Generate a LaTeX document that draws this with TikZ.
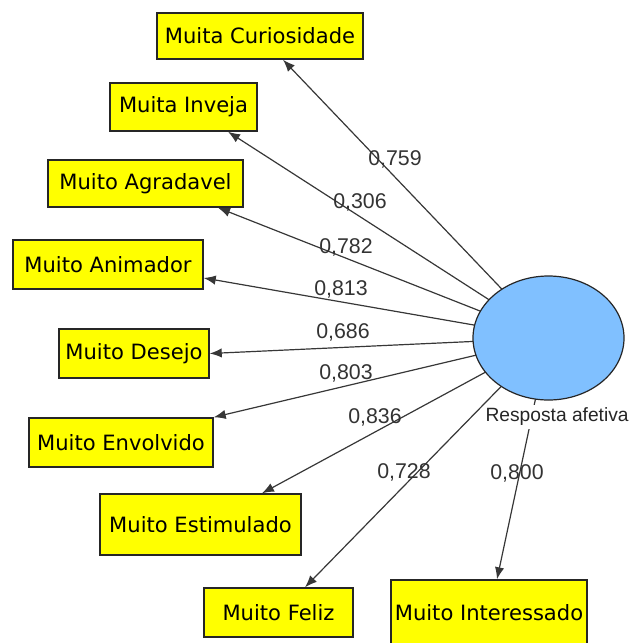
\documentclass[tikz,border=0pt]{standalone}
\usepackage{fontspec}
\setmainfont{DejaVu Sans}
\newfontfamily\numfont{Liberation Sans}
\usetikzlibrary{arrows.meta,backgrounds,shapes.geometric}
\definecolor{boxyellow}{RGB}{255,255,0}
\definecolor{lvblue}{RGB}{128,192,255}
\definecolor{linegray}{RGB}{55,55,55}
\tikzset{
  ind/.style 2 args={draw=black!85, line width=1.1pt, fill=boxyellow, inner sep=0pt,
    minimum width={#1*0.75pt}, minimum height={#2*0.75pt},
    font=\fontsize{15.8}{18}\selectfont},
  lv/.style={ellipse, draw=black!85, line width=0.9pt, fill=lvblue,
    minimum width={151*0.75pt}, minimum height={124*0.75pt}, inner sep=0pt},
  load/.style={font=\numfont\fontsize{16}{18}\selectfont, text=black!80, inner sep=0pt},
  lvname/.style={font=\numfont\fontsize{14.4}{16}\selectfont, text=black!85, fill=white,
    inner xsep=1pt, inner ysep=2.6pt, anchor=west},
  arr/.style={draw=linegray, line width=0.9pt, -{Latex[length=9pt,width=7pt]}}
}
\begin{document}
\begin{tikzpicture}[x=0.75pt,y=-0.75pt]
\useasboundingbox (0,0) rectangle (629,643);
\clip (0,0) rectangle (629,643);
% latent variable
\node[lv] (ell) at (548.5,338) {};
% indicators
\node[ind={206}{46}] (cur) at (260,36) {Muita Curiosidade};
\node[ind={147}{48}] (inv) at (183.5,107) {Muita Inveja};
\node[ind={195}{47}] (agr) at (145.5,183.5) {Muito Agradavel};
\node[ind={190}{49}] (ani) at (108,264.5) {Muito Animador};
\node[ind={150}{49}] (des) at (134,353.5) {Muito Desejo};
\node[ind={184}{49}] (env) at (121,442.5) {Muito Envolvido};
\node[ind={201}{61}] (est) at (200.5,524.5) {Muito Estimulado};
\node[ind={149}{49}] (fel) at (278.5,612.5) {Muito Feliz};
\node[ind={196}{66}] (int) at (489,613) {Muito Interessado};
% connectors behind the ellipse
\begin{pgfonlayer}{background}
\draw[arr] (ell.center) -- ([xshift=17.25pt]cur.south);
\draw[arr] (ell.center) -- ([xshift=33.4pt]inv.south);
\draw[arr] (ell.center) -- ([xshift=54.4pt]agr.south);
\draw[arr] (ell.center) -- ([yshift=-10.1pt]ani.east);
\draw[arr] (ell.center) -- (des.east);
\draw[arr] (ell.center) -- (env.north east);
\draw[arr] (ell.center) -- ([xshift=46.1pt]est.north);
\draw[arr] (ell.center) -- ([xshift=19.9pt]fel.north);
\draw[arr] (ell.center) -- ([xshift=6pt]int.north);
\end{pgfonlayer}
% loadings
\node[load] (l1) at (395,159) {0,759};
\node[load] (l2) at (360,202) {0,306};
\node[load] (l3) at (346,247) {0,782};
\node[load] (l4) at (341,289.5) {0,813};
\node[load] (l5) at (343,332) {0,686};
\node[load] (l6) at (346,373.5) {0,803};
\node[load] (l7) at (375,417.5) {0,836};
\node[load] (l8) at (404,472) {0,728};
\node[load] (l9) at (517,473.5) {0,800};
% latent name
\node[lvname] (lvn) at (484,417) {Resposta afetiva};
\end{tikzpicture}
\end{document}
